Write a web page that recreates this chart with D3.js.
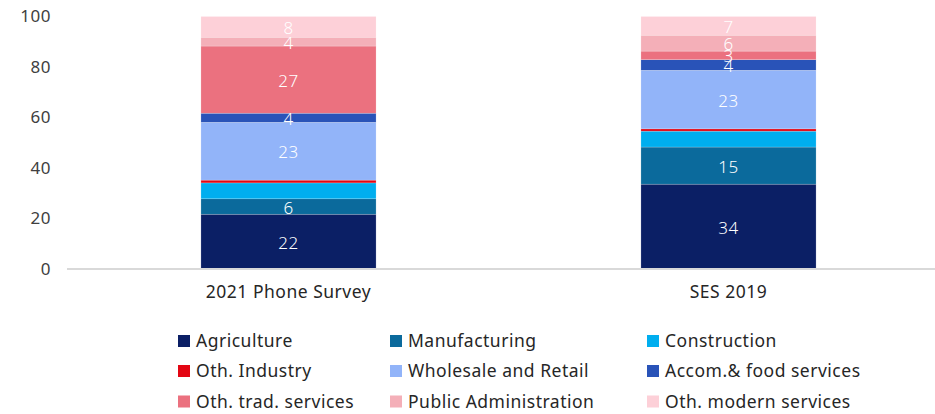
<!DOCTYPE html>
<html>
<head>
<meta charset="utf-8">
<script src="https://cdn.jsdelivr.net/npm/d3@7"></script>
<style>
  body { margin: 0; background: #fff; }
  svg { display: block; font-family: "Noto Sans", sans-serif; letter-spacing: 0.5px; }
</style>
</head>
<body>
<div id="chart"></div>
<script>
const W = 935
const H = 414

// data
const surveys = ['2021 Phone Survey', 'SES 2019']
const sectors = [
  'Agriculture', 'Manufacturing', 'Construction',
  'Oth. Industry', 'Wholesale and Retail', 'Accom.& food services',
  'Oth. trad. services', 'Public Administration', 'Oth. modern services'
]
const phoneSurvey = [21.7, 6.1, 6.3, 1.1, 22.9, 3.6, 26.6, 3.5, 8.2]
const ses2019 = [33.6, 14.7, 6.3, 0.9, 23.2, 4.2, 3.4, 6.3, 7.4]
const labelled = ['Agriculture', 'Manufacturing', 'Wholesale and Retail', 'Accom.& food services',
  'Oth. trad. services', 'Public Administration', 'Oth. modern services']
const yTicks = [0, 20, 40, 60, 80, 100]

const colors = ['#0b1f65', '#0b6a9c', '#00aeef', '#e30613', '#92b4f9',
  '#2953b8', '#eb717f', '#f4afb8', '#fdd0d8']

const rows = surveys.map((s, i) => {
  const vals = i === 0 ? phoneSurvey : ses2019
  const r = { survey: s }
  sectors.forEach((k, j) => { r[k] = vals[j] })
  return r
})

const series = d3.stack().keys(sectors)(rows)

const x = d3.scaleBand()
  .domain(surveys)
  .range([68.5, 948.5])
  .paddingInner(0.602)
  .paddingOuter(0.301)

const y = d3.scaleLinear().domain([0, 100]).range([269, 16.5])
const color = d3.scaleOrdinal().domain(sectors).range(colors)

const svg = d3.select('#chart').append('svg')
  .attr('width', W)
  .attr('height', H)

// y axis
const yAxis = d3.axisLeft(y).tickValues(yTicks).tickSize(0).tickPadding(0)
const $y = svg.append('g')
  .attr('transform', 'translate(51, 0)')
  .call(yAxis)
$y.select('.domain').remove()
$y.selectAll('text')
  .attr('font-size', 17)
  .attr('font-family', '"Noto Sans", sans-serif')
  .attr('fill', '#404040')

// bars
const layer = svg.append('g').selectAll('g')
  .data(series)
  .join('g')
  .attr('fill', d => color(d.key))

layer.selectAll('rect')
  .data(d => d)
  .join('rect')
  .attr('x', d => x(d.data.survey))
  .attr('width', x.bandwidth())
  .attr('y', d => y(d[1]))
  .attr('height', d => y(d[0]) - y(d[1]))
  .attr('stroke', '#fff')
  .attr('stroke-opacity', 0.4)
  .attr('stroke-width', 0.5)

// baseline
svg.append('line')
  .attr('x1', 67).attr('x2', W)
  .attr('y1', y(0)).attr('y2', y(0))
  .attr('stroke', '#d9d9d9')
  .attr('stroke-width', 2)

// segment labels
const labels = svg.append('g')
series.filter(s => labelled.includes(s.key)).forEach(s => {
  labels.selectAll(null)
    .data(s)
    .join('text')
    .attr('x', d => x(d.data.survey) + x.bandwidth() / 2)
    .attr('y', d => (y(d[0]) + y(d[1])) / 2 + 7)
    .attr('text-anchor', 'middle')
    .attr('font-size', 17)
    .attr('font-weight', 300)
    .attr('fill', '#fff')
    .text(d => Math.round(d[1] - d[0]))
})

// x axis labels
const xAxis = d3.axisBottom(x).tickSize(0).tickPadding(0)
const $x = svg.append('g')
  .attr('transform', 'translate(0, 286)')
  .call(xAxis)
$x.select('.domain').remove()
$x.selectAll('text')
  .attr('font-size', 17.5)
  .attr('font-family', '"Noto Sans", sans-serif')
  .attr('fill', '#262626')

// legend
const colX = [178, 390, 647]
const rowY = [341, 371, 401.5]
const legend = svg.append('g').selectAll('g')
  .data(sectors)
  .join('g')
  .attr('transform', (d, i) => `translate(${colX[i % 3]}, ${rowY[Math.floor(i / 3)]})`)

legend.append('rect')
  .attr('x', 0).attr('y', -6)
  .attr('width', 12).attr('height', 12)
  .attr('fill', d => color(d))

legend.append('text')
  .attr('x', 18)
  .attr('y', 6)
  .attr('font-size', 17.5)
  .attr('fill', '#262626')
  .text(d => d)
</script>
</body>
</html>
